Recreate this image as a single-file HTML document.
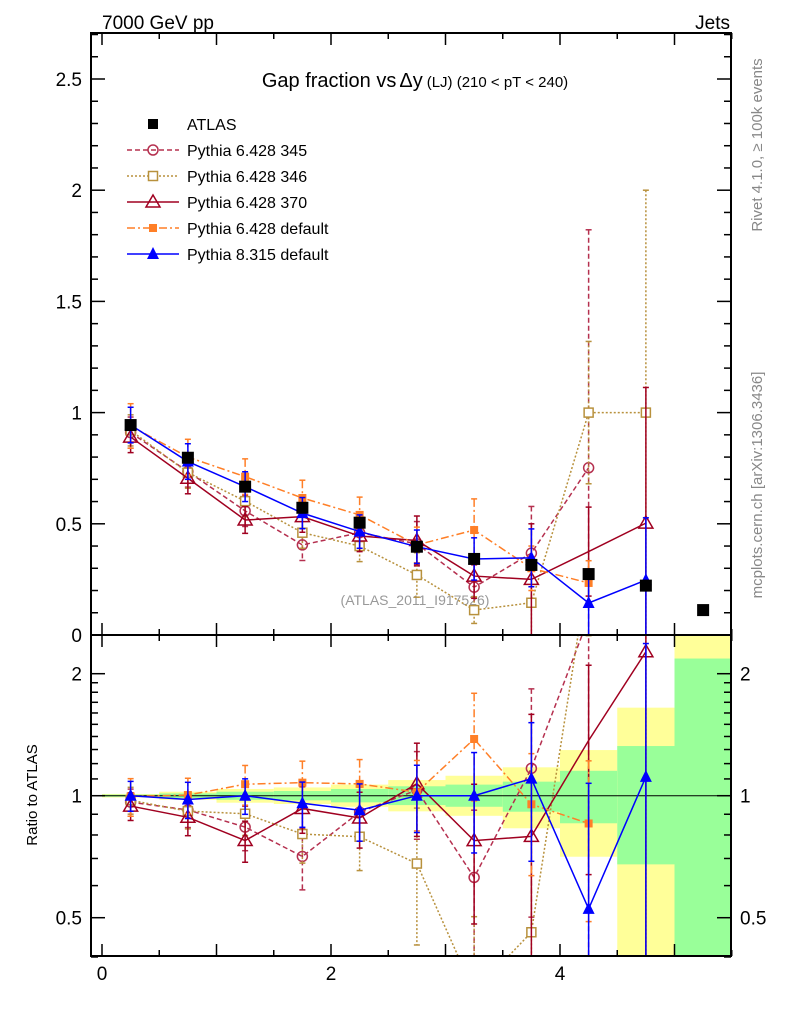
<!DOCTYPE html>
<html><head><meta charset="utf-8"><style>
html,body{margin:0;background:#fff;overflow:hidden;width:786px;height:1024px;}
svg{display:block;font-family:"Liberation Sans",sans-serif;}
</style></head><body>
<svg id="c" width="786" height="1024" viewBox="0 0 786 1024">
<defs>
<clipPath id="cm"><rect x="91" y="33" width="640" height="602"/></clipPath>
<clipPath id="cr"><rect x="91" y="635" width="640" height="321"/></clipPath>
</defs>
<text x="102" y="29" font-size="19">7000 GeV pp</text>
<text x="730" y="29" font-size="19" text-anchor="end">Jets</text>
<text x="415" y="87" font-size="20" text-anchor="middle">Gap fraction vs<tspan dx="3">Δy</tspan><tspan font-size="15" dx="4">(LJ) (210 &lt; pT &lt; 240)</tspan></text>
<text transform="translate(762,145) rotate(-90)" font-size="15" fill="#888" text-anchor="middle">Rivet 4.1.0, ≥ 100k events</text>
<text transform="translate(762,485) rotate(-90)" font-size="15" fill="#888" text-anchor="middle">mcplots.cern.ch [arXiv:1306.3436]</text>
<text x="415" y="605" font-size="14" fill="#999" text-anchor="middle">(ATLAS_2011_I917526)</text>
<text transform="translate(37,795) rotate(-90)" font-size="15" text-anchor="middle">Ratio to ATLAS</text>
<g id="g"></g>
</svg>
<script>
const xs=[0.25,0.75,1.25,1.75,2.25,2.75,3.25,3.75,4.25,4.75,5.25];
const atlas=[0.944,0.797,0.667,0.572,0.505,0.397,0.342,0.315,0.274,0.222,0.112];
const p345=[0.91,0.735,0.558,0.405,0.46,0.41,0.215,0.368,0.752];
const p345err=[0.07,0.07,0.07,0.07,0.07,0.1,0.1,0.21,1.07];
const p346=[0.92,0.73,0.602,0.46,0.40,0.27,0.112,0.145,1.0,1.0];
const p346err=[0.07,0.07,0.07,0.07,0.07,0.1,0.06,0.15,0.32,1.0];
const p370=[0.89,0.705,0.517,0.532,0.445,0.425,0.265,0.25,0.375,0.503];
const p370err=[0.07,0.07,0.06,0.07,0.07,0.11,0.1,0.25,0.2,0.61];
const pdef=[0.94,0.80,0.712,0.616,0.54,0.405,0.472,0.30,0.234];
const pdeferr=[0.1,0.08,0.08,0.08,0.08,0.08,0.14,0.1,0.1];
const p8=[0.944,0.78,0.667,0.548,0.465,0.397,0.342,0.347,0.144,0.247];
const p8err=[0.08,0.08,0.067,0.07,0.075,0.075,0.095,0.13,0.15,0.28];
const yelHi=[1.01,1.023,1.039,1.048,1.065,1.093,1.12,1.175,1.296,1.649,2.49];
const yelLo=[0.99,0.977,0.961,0.954,0.939,0.915,0.892,0.831,0.707,0.4,0.3];
const grnHi=[1.006,1.013,1.023,1.027,1.039,1.055,1.065,1.083,1.152,1.326,2.18];
const grnLo=[0.994,0.987,0.977,0.974,0.963,0.948,0.939,0.913,0.855,0.677,0.3];
const mainTicks=[0,0.5,1,1.5,2,2.5];
const mainTickLabels=["0","0.5","1","1.5","2","2.5"];
const ratioTicks=[0.5,1,2];
const ratioTickLabels=["0.5","1","2"];
const xTicks=[0,2,4];
const xTickLabels=["0","2","4"];

const NS="http://www.w3.org/2000/svg";
const G=document.getElementById('g');
const X=v=>102+v*114.5, Ym=v=>635-v*222.4, Yr=r=>795.7-Math.log2(Math.max(r,1e-3))*122;
function el(t,a,p){const e=document.createElementNS(NS,t);for(const k in a)e.setAttribute(k,a[k]);(p||G).appendChild(e);return e;}
const gm=el('g',{'clip-path':'url(#cm)'});


const gr=el('g',{'clip-path':'url(#cr)'});



for(let i=0;i<xs.length;i++){
  const x0=X(xs[i]-0.25),x1=X(xs[i]+0.25);
  const y=el('rect',{x:x0,y:Yr(yelHi[i]),width:x1-x0,height:Yr(yelLo[i])-Yr(yelHi[i]),fill:'#ffff99'},gr);
  
  
  const g2=el('rect',{x:x0,y:Yr(grnHi[i]),width:x1-x0,height:Yr(grnLo[i])-Yr(grnHi[i]),fill:'#99ff99'},gr);
  
  
}
el('line',{x1:91,x2:731,y1:Yr(1),y2:Yr(1),stroke:'#000','stroke-width':1},gr);

function marker(p,type,x,y,col){
  let e;
  if(type==='fsq')e=el('rect',{x:x-6,y:y-6,width:12,height:12,fill:col},p);
  else if(type==='osq')e=el('rect',{x:x-4.5,y:y-4.5,width:9,height:9,fill:'#fff',stroke:col,'stroke-width':1.5},p);
  else if(type==='fsqs')e=el('rect',{x:x-4,y:y-4,width:8,height:8,fill:col},p);
  else if(type==='ocirc')e=el('circle',{cx:x,cy:y,r:5,fill:'none',stroke:col,'stroke-width':1.5},p);
  else if(type==='otri')e=el('path',{d:`M${x},${y-7}L${x+7},${y+5}L${x-7},${y+5}Z`,fill:'none',stroke:col,'stroke-width':1.5},p);
  else e=el('path',{d:`M${x},${y-7}L${x+6},${y+5}L${x-6},${y+5}Z`,fill:col},p);
  
  
  return e;
}
const series=[
 {name:'p345',v:p345,e:p345err,col:'#b5304f',dash:'5,3',m:'ocirc',hide:[]},
 {name:'p346',v:p346,e:p346err,col:'#b8913d',dash:'2,2',m:'osq',hide:[]},
 {name:'p370',v:p370,e:p370err,col:'#a00020',dash:'',m:'otri',hide:[8]},
 {name:'pdef',v:pdef,e:pdeferr,col:'#ff7f27',dash:'8,3,2,3',m:'fsqs',hide:[]},
 {name:'p8',v:p8,e:p8err,col:'#0000ff',dash:'',m:'ftri',hide:[]}
];
function drawSeries(p,s,fy,ratio){
  const g=el('g',{},p);
  
  
  const pts=s.v.map((v,i)=>[X(xs[i]),fy(ratio?v/atlas[i]:v)]);
  const ln=el('polyline',{points:pts.map(q=>q.join(',')).join(' '),fill:'none',stroke:s.col,'stroke-width':1.5,'stroke-dasharray':s.dash},g);
  
  
  s.v.forEach((v,i)=>{
    const d=ratio?atlas[i]:1;
    const x=X(xs[i]),yt=fy((v+s.e[i])/d),yb=fy(Math.max(v-s.e[i],0.001)/d);
    el('line',{x1:x,x2:x,y1:yt,y2:yb,stroke:s.col,'stroke-width':1.5,'stroke-dasharray':s.dash},g);
    el('line',{x1:x-3,x2:x+3,y1:yt,y2:yt,stroke:s.col,'stroke-width':1.5},g);
    el('line',{x1:x-3,x2:x+3,y1:yb,y2:yb,stroke:s.col,'stroke-width':1.5},g);
    if(!s.hide.includes(i))marker(g,s.m,x,fy(v/d),s.col);
  });
}
series.forEach(s=>drawSeries(gm,s,Ym,false));
atlas.forEach((v,i)=>marker(gm,'fsq',X(xs[i]),Ym(v),'#000'));
series.forEach(s=>drawSeries(gr,s,Yr,true));

const leg=[['ATLAS','#000','','fsqs'],['Pythia 6.428 345','#b5304f','5,3','ocirc'],['Pythia 6.428 346','#b8913d','2,2','osq'],['Pythia 6.428 370','#a00020','','otri'],['Pythia 6.428 default','#ff7f27','8,3,2,3','fsqs'],['Pythia 8.315 default','#0000ff','','ftri']];
leg.forEach((l,i)=>{
  const y=124+i*26;
  const g=el('g',{});
  
  
  if(i>0)el('line',{x1:127,x2:179,y1:y,y2:y,stroke:l[1],'stroke-width':1.5,'stroke-dasharray':l[2]},g);
  if(i===0)el('rect',{x:148,y:y-5,width:10,height:10,fill:'#000'},g);else marker(g,l[3],153,y,l[1]);
  const t=el('text',{x:187,y:y+6,'font-size':16},g);t.textContent=l[0];
});

for(const [y0,y1] of [[33,635],[635,956]]){
  const f=el('rect',{x:91,y:y0,width:640,height:y1-y0,fill:'none',stroke:'#000','stroke-width':2});
  
  
}
function tk(x1,y1,x2,y2){el('line',{x1,y1,x2,y2,stroke:'#000','stroke-width':1.5});}
for(let v=0;v<=2.7001;v+=0.1){const y=Ym(v);const maj=Math.abs(v*2-Math.round(v*2))<1e-6;const L=maj?14:7;tk(91,y,91+L,y);tk(731,y,731-L,y);}
mainTicks.forEach((v,i)=>{const t=el('text',{x:82,y:Ym(v)+7,'font-size':19,'text-anchor':'end'});t.textContent=mainTickLabels[i];});
const rmin=[0.4,0.5,0.6,0.7,0.8,0.9,1,1.1,1.2,1.3,1.4,1.5,1.6,1.7,1.8,1.9,2];
rmin.forEach(r=>{const y=Yr(r);const maj=ratioTicks.includes(r);const L=maj?14:7;tk(91,y,91+L,y);tk(731,y,731-L,y);});
ratioTicks.forEach((v,i)=>{
  const t=el('text',{x:82,y:Yr(v)+7,'font-size':19,'text-anchor':'end'});t.textContent=ratioTickLabels[i];
  const t2=el('text',{x:740,y:Yr(v)+7,'font-size':19});t2.textContent=ratioTickLabels[i];
});
for(let v=0;v<=5.5;v+=0.5){const x=X(v);const maj=Number.isInteger(v);const L=maj?12:6;tk(x,956,x,956-L);tk(x,635,x,635-L);tk(x,635,x,635+L);tk(x,33,x,33+L);}
xTicks.forEach((v,i)=>{const t=el('text',{x:X(v),y:980,'font-size':19,'text-anchor':'middle'});t.textContent=xTickLabels[i];});
</script>
</body></html>
